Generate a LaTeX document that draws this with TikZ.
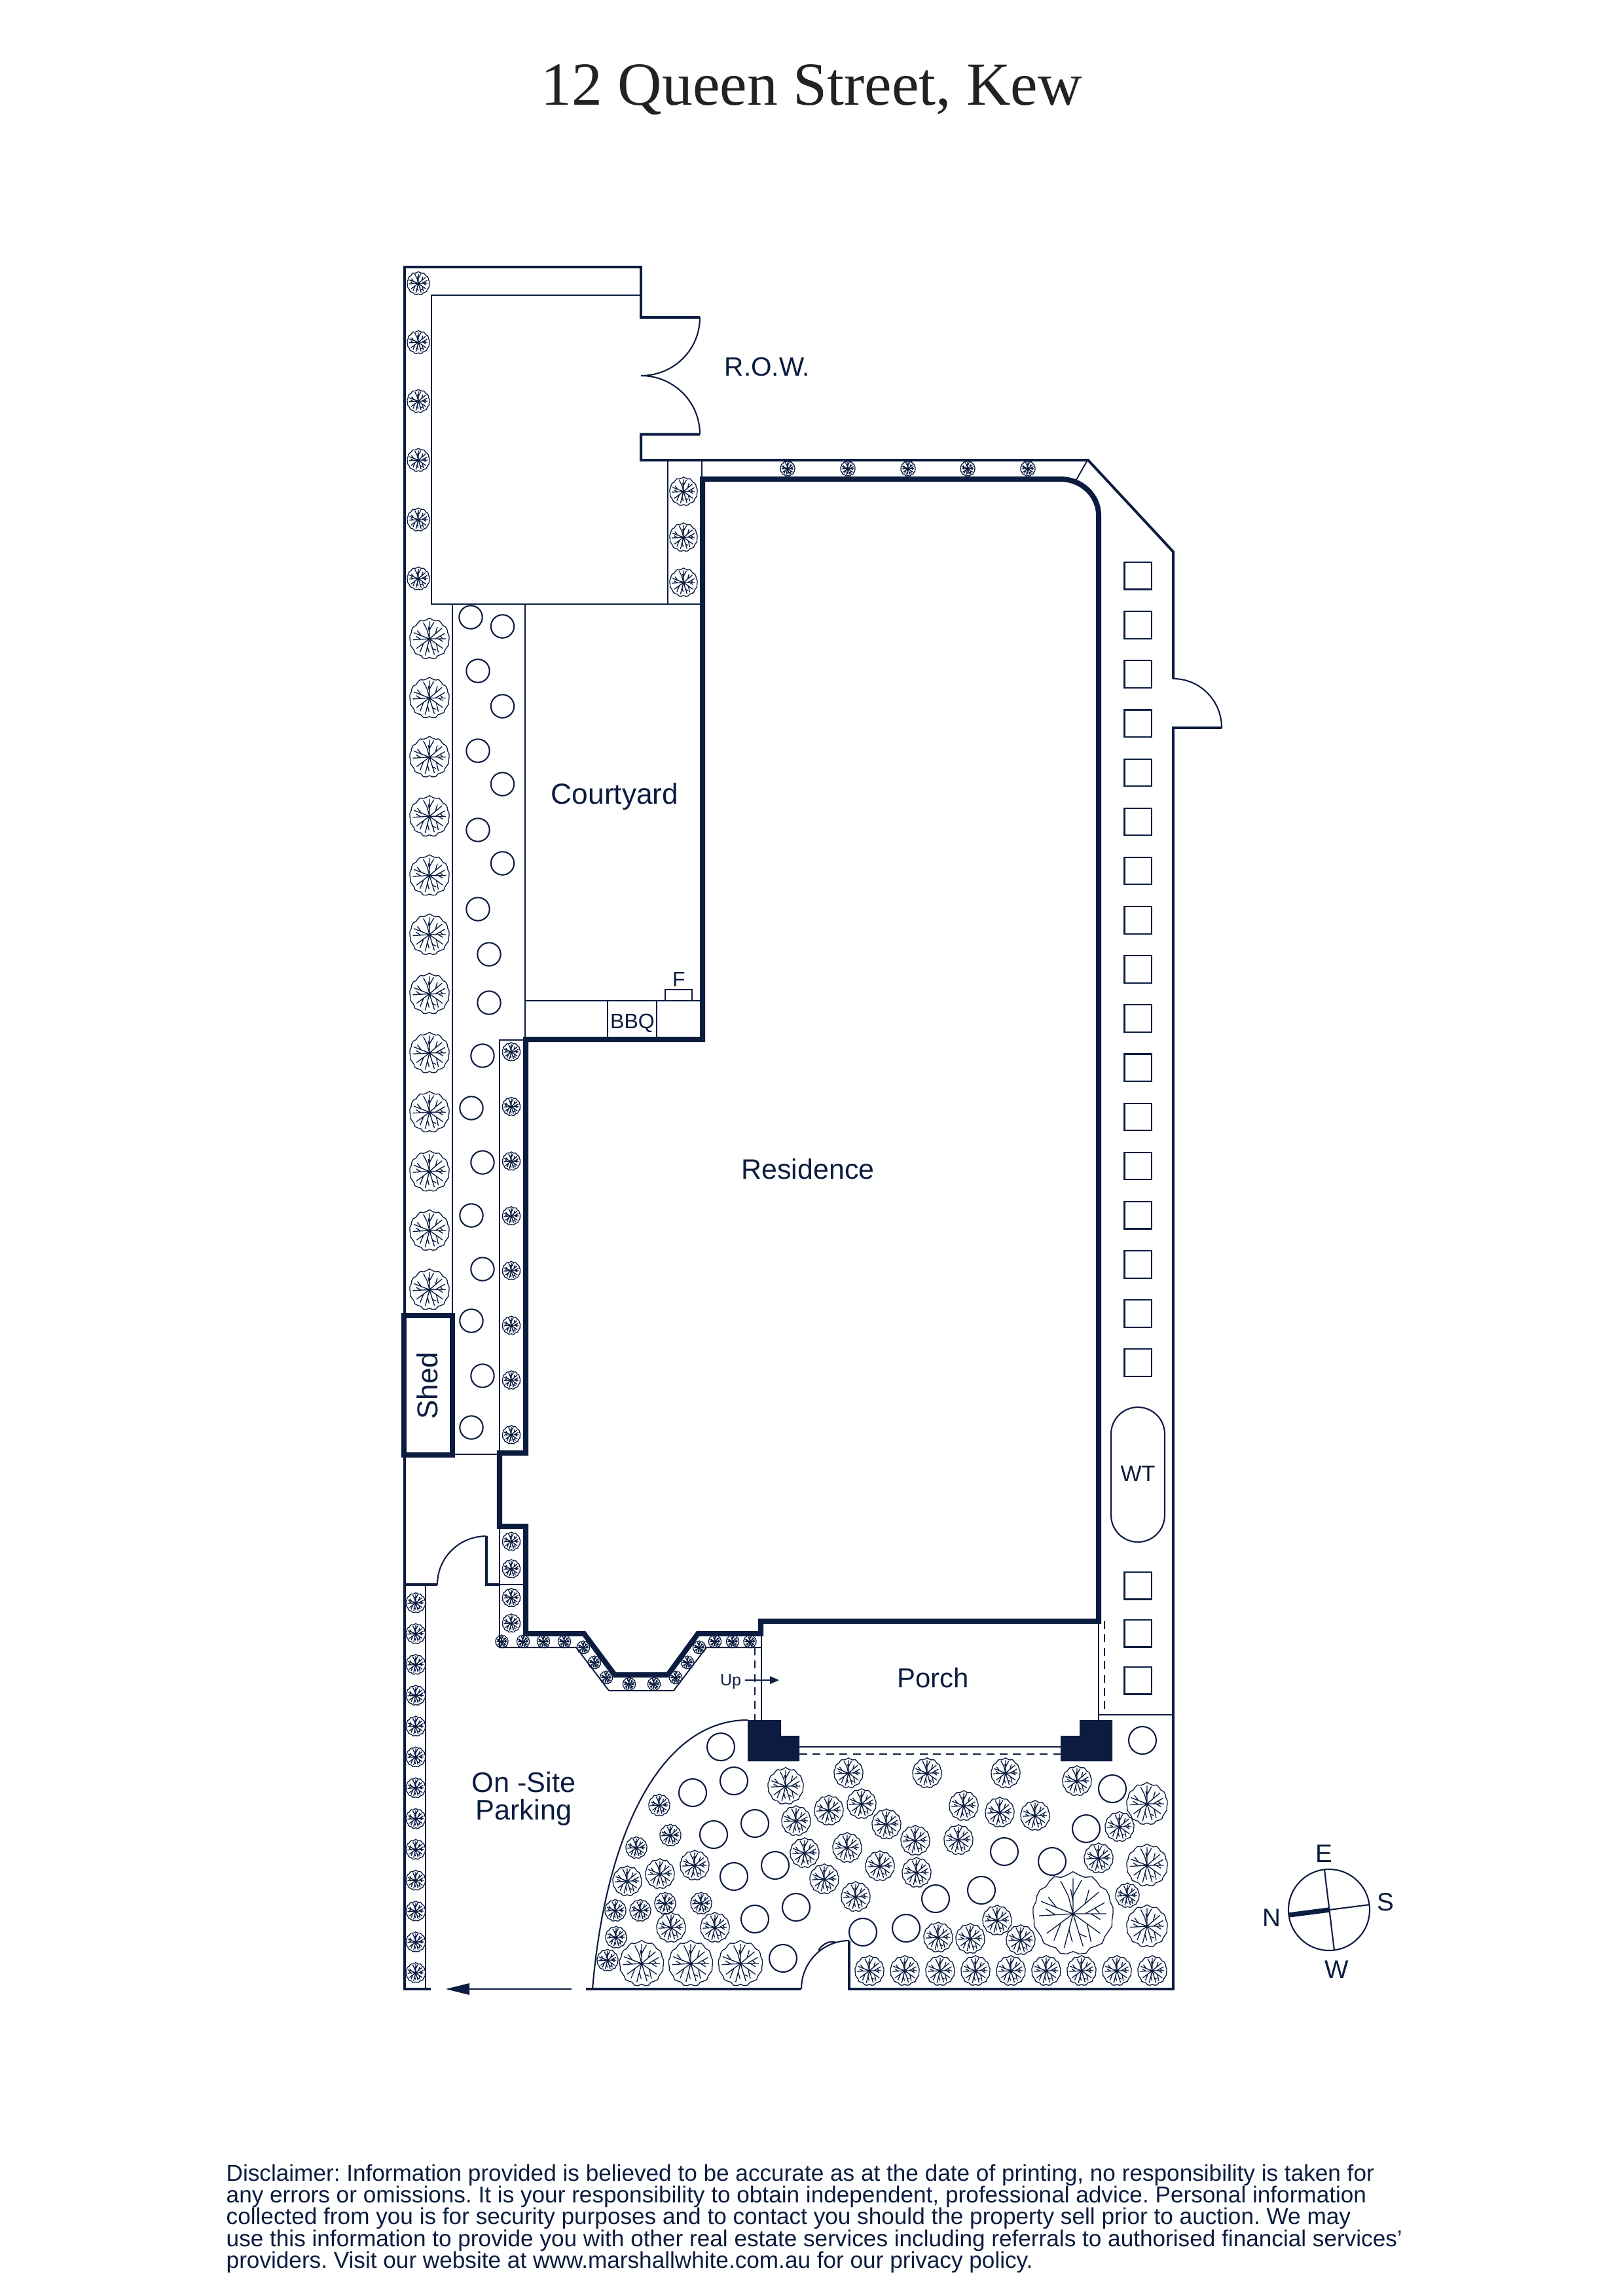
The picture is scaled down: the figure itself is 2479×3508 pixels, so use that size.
\documentclass[tikz,border=0pt]{standalone}
\usepackage{fontspec}
\setmainfont{Liberation Sans}
\newfontfamily\titlefont{Liberation Serif}
\definecolor{ink}{HTML}{0C1C40}
\definecolor{titleink}{HTML}{222222}
\newcommand{\fs}[1]{\fontsize{#1pt}{#1pt}\selectfont}
\newcommand{\shrub}[3]{%
  \begin{scope}[shift={(#1,#2)},x=#3*0.01cm,y=#3*0.01cm]
    \draw[plantline] plot[domain=0:360,samples=41,variable=\t] (\t:{1+0.035*sin(13*\t)+0.02*sin(29*\t)}) -- cycle;
    \draw[plantline] (0,0)--(0,.89) (0,.45)--(.22,.85) (0,.3)--(-.06,.62)
      (0,0)--(-.12,.45)--(-.31,.82)
      (0,0)--(-.42,.16)--(-.80,.31) (-.42,.16)--(-.62,.42)
      (0,0)--(-.85,-.05) (-.45,-.02)--(-.68,.12)
      (0,0)--(-.66,-.49) (-.3,-.22)--(-.48,-.67)
      (0,0)--(-.22,-.85) (-.1,-.4)--(-.02,-.7)
      (0,0)--(.25,-.81) (.15,-.5)--(.34,-.58)
      (0,0)--(.68,-.49) (.35,-.25)--(.45,-.7)
      (0,0)--(.83,0) (.45,0)--(.68,-.14)
      (.3,0)--(.79,.28) (.55,.14)--(.66,.02)
      (0,0)--(.64,.54) (.3,.25)--(.4,.6);
  \end{scope}}
\tikzset{
  outerwall/.style={draw=ink,line width=1.14pt,line join=miter},
  heavywall/.style={draw=ink,line width=2.28pt,line join=miter},
  thinline/.style={draw=ink,line width=.55pt},
  doorline/.style={draw=ink,line width=.6pt},
  dashline/.style={draw=ink,line width=.55pt,dash pattern=on 3.4pt off 2.4pt},
  ring/.style={draw=ink,line width=.6pt},
  plantline/.style={draw=ink,line width=.38pt},
  lbl/.style={text=ink,inner sep=0pt,anchor=base},
  pier/.style={fill=ink,draw=none}
}
\begin{document}
\frenchspacing
\begin{tikzpicture}[x=0.01cm,y=-0.01cm]
\path[use as bounding box,fill=white] (0,0) rectangle (2479,3508);

% title
\node[text=titleink,inner sep=0pt,anchor=base,font=\titlefont\fs{26.6}] (title) at (1240,160) {12 Queen Street, Kew};

% thin interior lines
\draw[thinline] (979,451)--(659,451)--(659,923)--(1073,923);
\draw[thinline] (1020,703)--(1020,923);
\draw[thinline] (1072,703)--(1072,732);
\draw[thinline] (691,923)--(691,2010);
\draw[thinline] (802,923)--(802,1588);
\draw[thinline] (803,1529)--(1073,1529);
\draw[thinline] (928,1529)--(928,1588) (1003,1529)--(1003,1588);
\draw[thinline] (1016,1529) rectangle (1057,1512);
\draw[thinline] (763,2220)--(763,1589)--(803,1589);
\draw[thinline] (691,2222)--(763,2222);
\draw[thinline] (650,2421)--(650,3039);
\draw[thinline] (763,2333)--(763,2517)--(880,2517)--(930,2583)--(1029,2583)--(1079,2517)--(1163,2517);
\draw[thinline] (763,2421)--(803,2421);
\draw[thinline] (1163,2496)--(1163,2629);
\draw[dashline] (1153,2517)--(1153,2629);
\draw[thinline] (1678,2477)--(1678,2628);
\draw[dashline] (1687,2477)--(1687,2620);
\draw[thinline] (1678,2620)--(1792,2620);
\draw[thinline] (1221,2669)--(1620,2669);
\draw[dashline] (1221,2680)--(1620,2680);
\draw[thinline] (1660,705)--(1644,733);

% outer walls
\draw[outerwall] (658,3039)--(618,3039)--(618,408)--(979,408)--(979,485)--(1069,485);
\draw[outerwall] (1069,663.5)--(979,663.5)--(979,703)--(1662,703)--(1792,843)--(1792,1037);
\draw[outerwall] (1866,1112)--(1792,1112)--(1792,3039)--(1297,3039)--(1297,2965);
\draw[outerwall] (1223,3039)--(895,3039);
\draw[outerwall] (618,2421)--(668,2421);
\draw[outerwall] (743,2347)--(743,2421)--(763,2421);

% doors
\draw[doorline] (1069,485) .. controls (1069,534.7) and (1028.7,574) .. (979,574);
\draw[doorline] (979,574) .. controls (1028.7,574) and (1069,613.8) .. (1069,663.5);
\draw[doorline] (1792,1037) .. controls (1833,1037) and (1866,1070.6) .. (1866,1112);
\draw[doorline] (668,2421) .. controls (668,2379.6) and (701.6,2347) .. (743,2347);
\draw[doorline] (1224,3039) .. controls (1224,2998) and (1256.7,2965) .. (1297,2965);
\draw[doorline] (1250,2980) .. controls (1256,2970) and (1268,2964) .. (1277,2968);

% garden edge
\draw[doorline] (905,3039) .. controls (925,2800) and (1010,2628) .. (1142,2628);

% heavy walls of the residence
\draw[heavywall] (1073,732)--(1620,732) .. controls (1652,732) and (1678,757) .. (1678,787)--(1678,2477)--(1162,2477)--(1162,2496)--(1066,2496)--(1020,2559)--(939,2559)--(892,2496)--(803,2496)--(803,2332)--(763,2332)--(763,2220)--(803,2220)--(803,1588)--(1073,1588)--cycle;
\draw[heavywall] (617,2010) rectangle (691,2223);

% piers
\path[pier] (1142,2628)--(1193,2628)--(1193,2652)--(1221,2652)--(1221,2691)--(1142,2691)--cycle;
\path[pier] (1699,2628)--(1649,2628)--(1649,2652)--(1620,2652)--(1620,2691)--(1699,2691)--cycle;

% pavers
\foreach \k in {0,...,16}
  \draw[ring] (1717.5,{859+75.15*\k}) rectangle ++(41.5,41.5);
\foreach \py in {2402,2475,2547}
  \draw[ring] (1717.5,\py) rectangle ++(41.5,41.5);
\draw[ring,rounded corners=.41cm] (1697,2150) rectangle (1779,2356);

% stepping-stone circles
\foreach \px/\py in {719/943,767.5/957,730/1025,767.5/1079,730/1147,767.5/1198,730/1268,767.5/1319,730/1389,747/1458,747/1532,737/1613,720/1693,737/1776,720/1857,737/1939,720/2018,737/2102,720/2181}
  \draw[ring] (\px,\py) circle[radius=17.7];
\foreach \px/\py in {1745/2659,1101/2669,1121/2721,1058/2739,1153/2786,1090/2803,1184/2850,1121/2867,1216/2914,1153/2932,1196/2992,1318/2952,1384/2946,1429/2901,1499/2888,1534/2829,1607/2844,1659/2794,1699/2733}
  \draw[ring] (\px,\py) circle[radius=21];

% plants
\foreach \py in {433,523,613,703,794,884} \shrub{639}{\py}{17};
\foreach \py in {751,821,890} \shrub{1044}{\py}{21};
\foreach \px in {1203,1295,1387,1478,1570} \shrub{\px}{716}{11};
\foreach \k in {0,...,11} \shrub{656}{976+90.4*\k}{30};
\foreach \k in {0,...,7} \shrub{781}{1607+83.6*\k}{13.5};
\foreach \py in {2355,2397,2441,2480} \shrub{781}{\py}{13.5};
\foreach \px/\py in {766.5/2508,799/2508,830/2508,862/2508,891/2517,908/2540,926/2563,961/2573,999/2573,1032/2563,1050/2540,1068/2517,1092/2508,1119/2508,1145.5/2508} \shrub{\px}{\py}{9.5};
\foreach \k in {0,...,12} \shrub{635}{2449+47.1*\k}{14.7};
\foreach \px in {980,1055,1131} \shrub{\px}{3000}{33.5};
\shrub{1200}{2729}{27};
\foreach \px/\py in {958/2874,1008/2863,1061/2850,1025/2945,1092/2945,1216/2782,1266/2766,1229/2831,1259/2871,1296/2709,1416/2709,1536/2709,1645/2721,1316/2756,1354/2787,1398/2812,1472/2759,1527/2769,1581/2774,1464/2811,1294/2823,1344/2851,1400/2861,1307/2898,1523/2934,1433/2960,1482/2962,1559/2964,1710/2791,1678/2839} \shrub{\px}{\py}{22};
\foreach \px/\py in {1007/2758,1024/2804,972/2823,940/2919,978/2919,1016/2908,1071/2908,941/2960,928/2995} \shrub{\px}{\py}{16};
\foreach \px in {1328,1382,1436,1490,1544,1598,1652,1706,1760} \shrub{\px}{3011}{22};
\foreach \py in {2756,2850,2943} \shrub{1752}{\py}{31};
\shrub{1722}{2896}{18};
\shrub{1639}{2924}{61};

% arrows
\coordinate (drivestart) at (873,3039);
\coordinate (driveshaft) at (717,3039);
\coordinate (drivetip) at (681,3039);
\draw[thinline,line width=.7pt] (drivestart)--(driveshaft);
\path[pier] (drivetip)--(717,3030)--(717,3048)--cycle;
\coordinate (upstart) at (1138,2567);
\coordinate (upshaft) at (1176,2567);
\coordinate (uptip) at (1190,2567);
\draw[thinline] (upstart)--(upshaft);
\path[pier] (uptip)--(1176,2561)--(1176,2573)--cycle;

% compass
\draw[ring] (2030,2918) circle[radius=62];
\draw[ring] (2023,2857)--(2038,2980);
\draw[ring] (2030,2918)--(2092,2910);
\draw[draw=ink,line width=2.1pt] (1968,2926)--(2030,2918);

% labels
\node[lbl,font=\fs{11.5}] (row) at (1172,574) {R.O.W.};
\node[lbl,font=\fs{12.6}] (courtyard) at (939,1228) {Courtyard};
\node[lbl,font=\fs{12.2}] (residence) at (1234,1801) {Residence};
\node[lbl,font=\fs{11.9}] (porch) at (1425,2578.5) {Porch};
\node[lbl,font=\fs{12.3}] (onsite) at (800,2738) {On -Site};
\node[lbl,font=\fs{12.3}] (parking) at (800,2780) {Parking};
\node[lbl,font=\fs{12.5},rotate=90] (shed) at (668,2117) {Shed};
\node[lbl,font=\fs{9.7}] (wt) at (1738,2263) {WT};
\node[lbl,font=\fs{9.1}] (bbq) at (966,1571) {BBQ};
\node[lbl,font=\fs{9.1}] (fire) at (1037,1507) {F};
\node[lbl,font=\fs{7.1}] (up) at (1116,2575.5) {Up};
\node[lbl,font=\fs{11}] (east) at (2022,2845) {E};
\node[lbl,font=\fs{11}] (south) at (2116,2919) {S};
\node[lbl,font=\fs{11}] (north) at (1942,2943) {N};
\node[lbl,font=\fs{11}] (west) at (2042,3022) {W};

% disclaimer
\tikzset{disc/.style={text=ink,inner sep=0pt,anchor=base west,font=\fs{10}}}
\node[disc] (d1) at (345,3332) {Disclaimer: Information provided is believed to be accurate as at the date of printing, no responsibility is taken for};
\node[disc] (d2) at (345,3365) {any errors or omissions. It is your responsibility to obtain independent, professional advice. Personal information};
\node[disc] (d3) at (345,3398) {collected from you is for security purposes and to contact you should the property sell prior to auction. We may};
\node[disc] (d4) at (345,3432) {use this information to provide you with other real estate services including referrals to authorised financial services’};
\node[disc] (d5) at (345,3465) {providers. Visit our website at www.marshallwhite.com.au for our privacy policy.};
\end{tikzpicture}
\end{document}
